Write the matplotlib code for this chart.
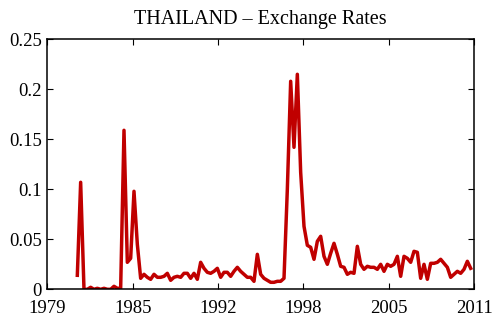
import numpy as np
import matplotlib
matplotlib.use("Agg")
import matplotlib.pyplot as plt

plt.rcParams['font.family'] = ['Liberation Serif', 'DejaVu Serif']

start_year = 1981.25
step = 0.25
values = [
    0.014, 0.107, 0.000, 0.000, 0.002, 0.000, 0.001, 0.000, 0.001, 0.000, 0.000, 0.003,
    0.001, 0.001, 0.159, 0.027, 0.031, 0.098, 0.045, 0.011, 0.015, 0.012, 0.010, 0.015,
    0.012, 0.012, 0.013, 0.016, 0.009, 0.012, 0.013, 0.012, 0.016, 0.016, 0.011, 0.016,
    0.010, 0.027, 0.021, 0.017, 0.016, 0.018, 0.021, 0.012, 0.017, 0.017, 0.013, 0.018,
    0.022, 0.018, 0.015, 0.012, 0.012, 0.008, 0.035, 0.015, 0.011, 0.009, 0.007, 0.007,
    0.008, 0.008, 0.011, 0.100, 0.208, 0.142, 0.215, 0.117, 0.063, 0.044, 0.042, 0.030,
    0.048, 0.053, 0.033, 0.025, 0.036, 0.046, 0.035, 0.023, 0.022, 0.015, 0.017, 0.016,
    0.043, 0.025, 0.020, 0.023, 0.022, 0.022, 0.020, 0.025, 0.018, 0.025, 0.023, 0.025,
    0.033, 0.013, 0.033, 0.031, 0.027, 0.038, 0.037, 0.011, 0.025, 0.010, 0.026, 0.026,
    0.027, 0.030, 0.026, 0.022, 0.012, 0.015, 0.018, 0.016, 0.020, 0.028, 0.021,
]
dates = start_year + step * np.arange(len(values))

x_min, x_max = 1979, 2011
x_ticks = np.linspace(x_min, x_max, 6)
x_tick_labels = [str(int(round(v))) for v in x_ticks]
y_ticks = [0, 0.05, 0.1, 0.15, 0.2, 0.25]
y_tick_labels = ["0", "0.05", "0.1", "0.15", "0.2", "0.25"]

fig = plt.figure(figsize=(4.95, 3.2), dpi=100)
ax = fig.add_axes([0.0956, 0.0959, 0.9576 - 0.0956, 0.8772 - 0.0959])
ax.plot(dates, values, color="#C00000", linewidth=2.5, solid_joinstyle="round")
ax.set_xlim(x_min, x_max)
ax.set_ylim(0, 0.25)
ax.set_xticks(x_ticks)
ax.set_xticklabels(x_tick_labels)
ax.set_yticks(y_ticks)
ax.set_yticklabels(y_tick_labels)
ax.tick_params(direction="in", length=4, width=0.8, top=True, right=True,
               labelsize=13.5)
ax.tick_params(axis="x", pad=8)
ax.tick_params(axis="y", pad=4)
for s in ax.spines.values():
    s.set_linewidth(1.1)
ax.set_title("THAILAND – Exchange Rates", fontsize=14.5, pad=11)
fig.savefig("out.png", dpi=100)
